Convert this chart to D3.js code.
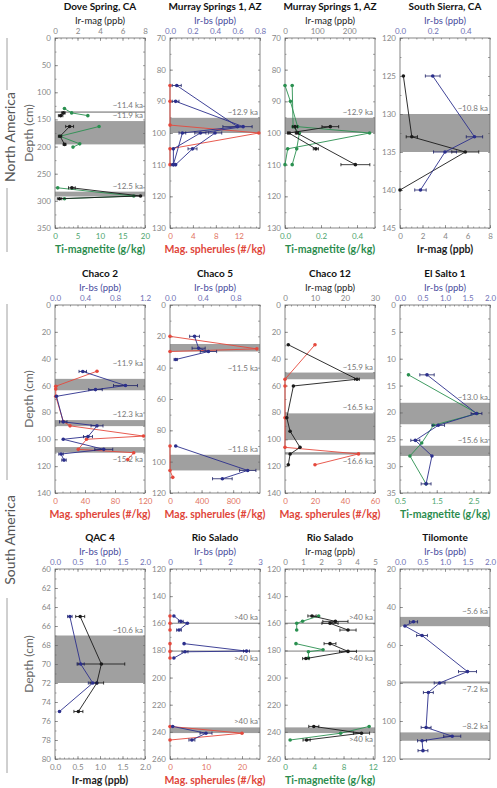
<!DOCTYPE html>
<html><head><meta charset="utf-8">
<script src="https://cdn.jsdelivr.net/npm/d3@7"></script>
<style>body{margin:0;background:#fff}svg{display:block}</style>
</head><body><svg id="c" width="497" height="788"></svg>
<script>
// ---------- data ----------
const titles = ["Dove Spring, CA","Murray Springs 1, AZ","Murray Springs 1, AZ","South Sierra, CA",
  "Chaco 2","Chaco 5","Chaco 12","El Salto 1","QAC 4","Rio Salado","Rio Salado","Tilomonte"];
const regionLabels = ["North America","South America"];
const axisNames = {irmag:"Ir-mag (ppb)", irbs:"Ir-bs (ppb)", sph:"Mag. spherules (#/kg)", ti:"Ti-magnetite (g/kg)"};

// [depth, value, error]
const doveIrMag = [[138,0.75,0.15],[143,0.5,0.2],null,[163,1.3,0.35],[181,0.45,0.15],[196,0.85,0.12],null,[276,1.5,0.3],[291,7.6],[296,0.4,0.2]];
const doveTi = [[130,2.1],[138,3.7],[143,7.3],null,[163,9.8],[181,1.1],[195,5.5],[201,4.0],null,[276,0.6],[291,17.5],[296,2.1]];
// [top, bottom, label, label side: a=above, aa=higher above, b=below, bb=further below]
const doveBands = [[135,138,"~11.4 ka","a"],[153,196,"~11.9 ka","a"],[283,292,"~12.5 ka","a"]];

const ms1IrbsA = [[85,0.06,0.04],[98,0.6,0.13],[100,0.11,0.03],[110,0.03,0.02]];
const ms1IrbsB = [[90,0.05,0.03],[98,0.65],[100,0.27,0.05],[105,0.03],[110,0.03]];
const ms1IrbsC = [[100,0.4,0.06],[105,0.2,0.04],[110,0.05]];
const ms1Sph = [[85,0],[90,0],[97.5,0],[100,15.5],[105,0],[110,0]];
const ms1Bands = [[95.2,100,"~12.9 ka","a"]];

const ms2TiA = [[85,0.0],[90,0.03],[98,0.07],[100,0.47],[105,0.015],[110,0.0]];
const ms2TiB = [[85,0.04],[98,0.045],[100,0.08],[105,0.065],[110,0.04]];
const ms2IrA = [[98,141,26],[100,12,4],[105,96,8]];
const ms2IrB = [[98,31,8],[100,37,5],[110,219,45]];
const ms2Bands = [[95.2,100,"~12.9 ka","a"]];

const ssIrbs = [[125,0.2,0.045],[133,0.455,0.05],[135,0.275,0.07],[140,0.125,0.035]];
const ssIrmag = [[125,0.3],[133,1.05,0.5],[135,5.8,1.2],[140,0]];
const ssBands = [[130,135,"~10.8 ka","a"]];

const c2Irbs = [[49.5,0.37,0.05],[60,0.94,0.16],[63,0.54,0.09],[68,0.02],[87,0.11,0.05],[90,0.56,0.08],[98,0.44,0.06],[100,0.11],[107.5,0.65,0.12],[111,0.08,0.03],[115.5,0.12,0.03]];
const c2Sph = [[49.3,56],[60.5,1],[62.5,1],[68,1],[86.7,11],[90,20],[97.6,118],[100,42],[107.5,31],[110,105],[115,97]];
const c2Bands = [[55,63.5,"~11.9 ka","aa"],[85.7,90.2,"~12.3 ka","a"],[105.8,110,"~15.2 ka","b"]];

const c5Irbs = [[20,0.3,0.06],[27.6,0.35,0.08],[29.7,0.47,0.1],[34.8,0.07,0.02],null,[90,0.07],[105.6,0.95,0.1],[110.9,0.64,0.12]];
const c5Sph = [[20,0],[28,1100],[29.7,0],null,[90,0],[105.6,0],[110,35]];
const c5Bands = [[24.9,29.7,"~11.5 ka","bb"],[95.6,105.6,"~11.8 ka","a"]];

const c12Irmag = [[29.6,1.1],[55.3,24,0.8],[60.3,2.8],[84,0.6],[94,1.7],[106,5.0],[111,1.7],[119,1.1]];
const c12Sph = [[29.6,20],[55.3,0],[60.3,0],[84,0],[106,0],[110.9,49],[119,20]];
const c12Bands = [[50.3,55.3,"~15.9 ka","a"],[80.7,100.6,"~16.5 ka","a"],[109.6,111.4,"~16.6 ka","b"]];

const esIrbs = [[13,0.6,0.16],[20.2,1.7,0.12],[22.4,0.85,0.14],[25.2,0.34,0.1],[28.1,0.71],[33.3,0.58,0.11]];
const esTi = [[13,0.73],[20.2,2.6],[22.4,1.41],[25.7,1.09],[28.1,0.77],[33.3,1.21]];
const esBands = [[18.2,22.2,"~13.0 ka","a"],[26.2,28.1,"~15.6 ka","a"]];

const qacIrbs = [[65,0.33,0.05],[70,0.57,0.08],[72,0.84,0.1],[75,0.1]];
const qacIrmag = [[65,0.56,0.1],[70,1.03,0.52],[72,0.93,0.15],[75,0.52,0.1]];
const qacBands = [[67,72,"~10.6 ka","a"]];

const r1Irbs = [[154.6,0.13],[158.6,0.36,0.08],[160,0.58],[165,0.3,0.08],null,[175,0.47],[180.5,2.55,0.1],[181,0.5,0.1],[185.6,0.13],null,[236,0.09],[241,1.2,0.2],[246,0.73,0.1]];
const r1Sph = [[154.6,0],[160,0],[165,0],null,[175,0],[180.7,0],[185.6,0],null,[236,0],[241,20],[246,0]];
const r1Bands = [[159.5,160.5,">40 ka","a"],[180,181,">40 ka","b"],[236.7,240.9,">40 ka","a"]];

const r2Irmag = [[154.6,1.5,0.23],[158.6,2.8,0.7],[160,2.5,0.45],[165,3.5,0.45],null,[175,2.5,0.33],[180.7,3.5,0.47],[186,1.16,0.18],null,[236,1.6,0.28],[241,4.25,0.45],[246,1.2,0.2]];
const r2Ti = [[154.6,4.6],[158.5,2.4],[160,1.6],[165,1.6],null,[175,1.5],[179.5,5.2],[181,3.2],[185.6,3.2],null,[236,11.5],[241,7.6],[246,0.7]];
const r2Bands = [[159.5,160.5,">40 ka","a"],[180,181,">40 ka","b"],[236.7,240.9,">40 ka","b"]];

const tiIrbs = [[47.8,0.3,0.09],[50,0.11],[55,0.49,0.12],[74,1.5,0.2],[80,0.88,0.12],[85,0.63,0.11],[103.4,0.58,0.11],[108,1.16,0.19],[110.4,0.49,0.1],[115.6,0.51,0.11]];
const tiBands = [[45.2,50.1,"~5.6 ka","a"],[79.2,80.2,"~7.2 ka","b"],[106,110.4,"~8.2 ka","a"]];

// depth domains & tick labels
const depthDomains = [[0,350],[70,130],[70,130],[120,145],[0,140],[0,120],[0,140],[0,35],[60,80],[120,260],[120,260],[20,120]];
const depthSteps = [50,10,10,5,20,20,20,5,2,20,20,20];
// top / bottom axes: [key, domain, ticks]
const topAxes = [
  ["irmag",[0,8],[0,2,4,6,8]],["irbs",[0,0.8],[0,0.2,0.4,0.6,0.8]],["irmag",[0,280],[0,100,200]],["irbs",[0,0.55],[0,0.2,0.4]],
  ["irbs",[0,1.2],[0,0.4,0.8,1.2]],["irbs",[0,1.1],[0,0.4,0.8]],["irmag",[0,30],[0,10,20,30]],["irbs",[0,2],[0,0.5,1,1.5,2]],
  ["irbs",[0,2],[0,0.5,1,1.5,2]],["irbs",[0,3],[0,1,2,3]],["irmag",[0,5],[0,1,2,3,4,5]],["irbs",[0,2],[0,0.5,1,1.5,2]]];
const bottomAxes = [
  ["ti",[0,20],[0,5,10,15,20]],["sph",[0,15.7],[0,4,8,12]],["ti",[0,0.5],[0,0.2,0.4]],["irmag",[0,8],[0,2,4,6,8]],
  ["sph",[0,120],[0,40,80,120]],["sph",[0,1140],[0,400,800]],["sph",[0,60],[0,20,40,60]],["ti",[0.5,2.95],[0.5,1.5,2.5]],
  ["irmag",[0,2],[0,0.5,1,1.5,2]],["sph",[0,25],[0,10,20]],["ti",[0,12.3],[0,4,8,12]],null];
const seriesSets = [
  [["ti",doveTi],["irmag",doveIrMag]],
  [["sph",ms1Sph],["irbs",ms1IrbsA],["irbs",ms1IrbsB],["irbs",ms1IrbsC]],
  [["ti",ms2TiA],["ti",ms2TiB],["irmag",ms2IrA],["irmag",ms2IrB]],
  [["irmag",ssIrmag],["irbs",ssIrbs]],
  [["sph",c2Sph],["irbs",c2Irbs]],
  [["sph",c5Sph],["irbs",c5Irbs]],
  [["sph",c12Sph],["irmag",c12Irmag]],
  [["ti",esTi],["irbs",esIrbs]],
  [["irmag",qacIrmag],["irbs",qacIrbs]],
  [["sph",r1Sph],["irbs",r1Irbs]],
  [["ti",r2Ti],["irmag",r2Irmag]],
  [["irbs",tiIrbs]]];
const bandSets = [doveBands,ms1Bands,ms2Bands,ssBands,c2Bands,c5Bands,c12Bands,esBands,qacBands,r1Bands,r2Bands,tiBands];

// ---------- layout & style ----------
const colX = [55,170,285,400], colW = 90;
const rowY = [38,305,569], rowH = [190,188,190];
const lineC = {irmag:"#1a1a1a", irbs:"#2b2f8c", sph:"#e5483c", ti:"#2a9050"};
const labC = {irmag:"#222", irbs:"#4a4d9e", sph:"#e0463a", ti:"#2b8c4e"};
const tickC = {irmag:"#888", irbs:"#7072b5", sph:"#e27462", ti:"#4ea56e"};
const FONT = "Lato, 'Open Sans', 'DejaVu Sans', sans-serif";
const labelOffset = {a:-3, aa:-13, b:9, bb:19};

const svg = d3.select("#c").style("font-family", FONT);

function fmtFor(ticks){ const dec = ticks.some(v=>Math.abs(v%1)>1e-9) ? 1 : 0; return d3.format("."+dec+"f"); }
function minorFor(ticks, domain){
  const step = ticks[1]-ticks[0];
  const lead = +step.toExponential().charAt(0);
  const div = (lead===2||lead===4) ? 4 : 5;
  const ms = step/div; const out=[];
  for(let v=ticks[0]; v<=domain[1]+1e-9; v+=ms) out.push(+v.toFixed(6));
  for(let v=ticks[0]-ms; v>=domain[0]-1e-9; v-=ms) out.push(+v.toFixed(6));
  return out;
}

titles.forEach((title,i)=>{
  const col=i%4, row=Math.floor(i/4);
  const x0=colX[col], y0=rowY[row], w=colW, h=rowH[row];
  const g = svg.append("g");
  const y = d3.scaleLinear(depthDomains[i],[y0,y0+h]);
  const scales = {};
  const ta = topAxes[i], ba = bottomAxes[i];
  const xt = d3.scaleLinear(ta[1],[x0,x0+w]); scales[ta[0]] = xt;
  let xb = null;
  if(ba){ xb = d3.scaleLinear(ba[1],[x0,x0+w]); scales[ba[0]] = xb; }

  // bands
  bandSets[i].forEach(b=>{
    const yt=y(b[0]), yb=y(b[1]);
    g.append("rect").attr("x",x0).attr("y",yt).attr("width",w).attr("height",Math.max(1.2,yb-yt)).attr("fill","#a0a0a0");
    const off = labelOffset[b[3]];
    g.append("text").attr("x",x0+w-2).attr("y", off<0 ? yt+off : yb+off)
      .attr("text-anchor","end").attr("font-size",8).attr("fill","#777").text(b[2]);
  });

  // frame
  g.append("rect").attr("x",x0).attr("y",y0).attr("width",w).attr("height",h)
    .attr("fill","none").attr("stroke","#666").attr("stroke-width",0.8);

  // left axis
  const dTicks = d3.range(depthDomains[i][0], depthDomains[i][1]+1e-9, depthSteps[i]);
  const dMinor = d3.range(depthDomains[i][0], depthDomains[i][1]+1e-9, depthSteps[i]/2);
  const la = g.append("g").attr("transform",`translate(${x0},0)`)
    .call(d3.axisLeft(y).tickValues(dTicks).tickSize(-3).tickPadding(4));
  la.append("g").call(d3.axisLeft(y).tickValues(dMinor).tickSize(-1.5).tickFormat(""));
  g.append("g").attr("transform",`translate(${x0+w},0)`).call(d3.axisRight(y).tickValues(dMinor).tickSize(-2).tickFormat(""));
  la.selectAll("text").attr("font-size",8).attr("fill","#888").attr("font-family",FONT);

  // top axis
  const tg = g.append("g").attr("transform",`translate(0,${y0})`)
    .call(d3.axisTop(xt).tickValues(ta[2]).tickSize(-3).tickPadding(4).tickFormat(fmtFor(ta[2])));
  tg.append("g").call(d3.axisTop(xt).tickValues(minorFor(ta[2],ta[1])).tickSize(-1.5).tickFormat(""));
  tg.selectAll("text").attr("font-size",8).attr("fill",tickC[ta[0]]).attr("font-family",FONT);
  g.append("text").attr("x",x0+w/2).attr("y",y0-14).attr("text-anchor","middle")
    .attr("font-size",9.5).attr("fill",labC[ta[0]]).text(axisNames[ta[0]]);

  // bottom axis
  if(ba){
    const bg = g.append("g").attr("transform",`translate(0,${y0+h})`)
      .call(d3.axisBottom(xb).tickValues(ba[2]).tickSize(-3).tickPadding(5).tickFormat(fmtFor(ba[2])));
    bg.append("g").call(d3.axisBottom(xb).tickValues(minorFor(ba[2],ba[1])).tickSize(-1.5).tickFormat(""));
    bg.selectAll("text").attr("font-size",8).attr("fill",tickC[ba[0]]).attr("font-family",FONT);
    g.append("text").attr("x",x0+w/2).attr("y",y0+h+25).attr("text-anchor","middle")
      .attr("font-size",10.5).attr("font-weight","bold").attr("fill",labC[ba[0]]).text(axisNames[ba[0]]);
  }
  g.selectAll(".domain").remove();
  g.selectAll(".tick line").attr("stroke","#666").attr("stroke-width",0.6);

  // title
  g.append("text").attr("x",x0+w/2).attr("y",y0-28).attr("text-anchor","middle")
    .attr("font-size",10).attr("font-weight","bold").attr("fill","#111").text(title);

  if(col===0){
    g.append("text").attr("transform",`translate(${x0-22},${y0+h/2}) rotate(-90)`)
      .attr("text-anchor","middle").attr("font-size",12).attr("fill","#666").text("Depth (cm)");
  }

  // series
  seriesSets[i].forEach(([key,data])=>{
    const xs = scales[key], c = lineC[key];
    const line = d3.line().defined(d=>d).x(d=>xs(d[1])).y(d=>y(d[0]));
    g.append("path").attr("d",line(data)).attr("fill","none").attr("stroke",c).attr("stroke-width",0.9);
    const pts = data.filter(d=>d);
    pts.filter(d=>d[2]).forEach(d=>{
      const yy=y(d[0]), a=xs(d[1]-d[2]), b=xs(d[1]+d[2]);
      const ec = key==="irbs" ? "#1c1f66" : "#111";
      g.append("line").attr("x1",a).attr("x2",b).attr("y1",yy).attr("y2",yy).attr("stroke",ec).attr("stroke-width",0.8);
      [a,b].forEach(xx=>g.append("line").attr("x1",xx).attr("x2",xx).attr("y1",yy-1.6).attr("y2",yy+1.6).attr("stroke",ec).attr("stroke-width",0.8));
    });
    g.selectAll(null).data(pts).enter().append("circle")
      .attr("cx",d=>xs(d[1])).attr("cy",d=>y(d[0])).attr("r",1.8).attr("fill",c);
  });
});

// region labels
const regions = [[137,[38,90],[188,252]],[540,[304,480],[598,773]]];
regions.forEach((r,k)=>{
  svg.append("text").attr("transform",`translate(15,${r[0]}) rotate(-90)`).attr("text-anchor","middle")
    .attr("font-size",14).attr("fill","#555").text(regionLabels[k]);
  [r[1],r[2]].forEach(s=>svg.append("line").attr("x1",7).attr("x2",7).attr("y1",s[0]).attr("y2",s[1]).attr("stroke","#888").attr("stroke-width",0.8));
});
</script></body></html>
